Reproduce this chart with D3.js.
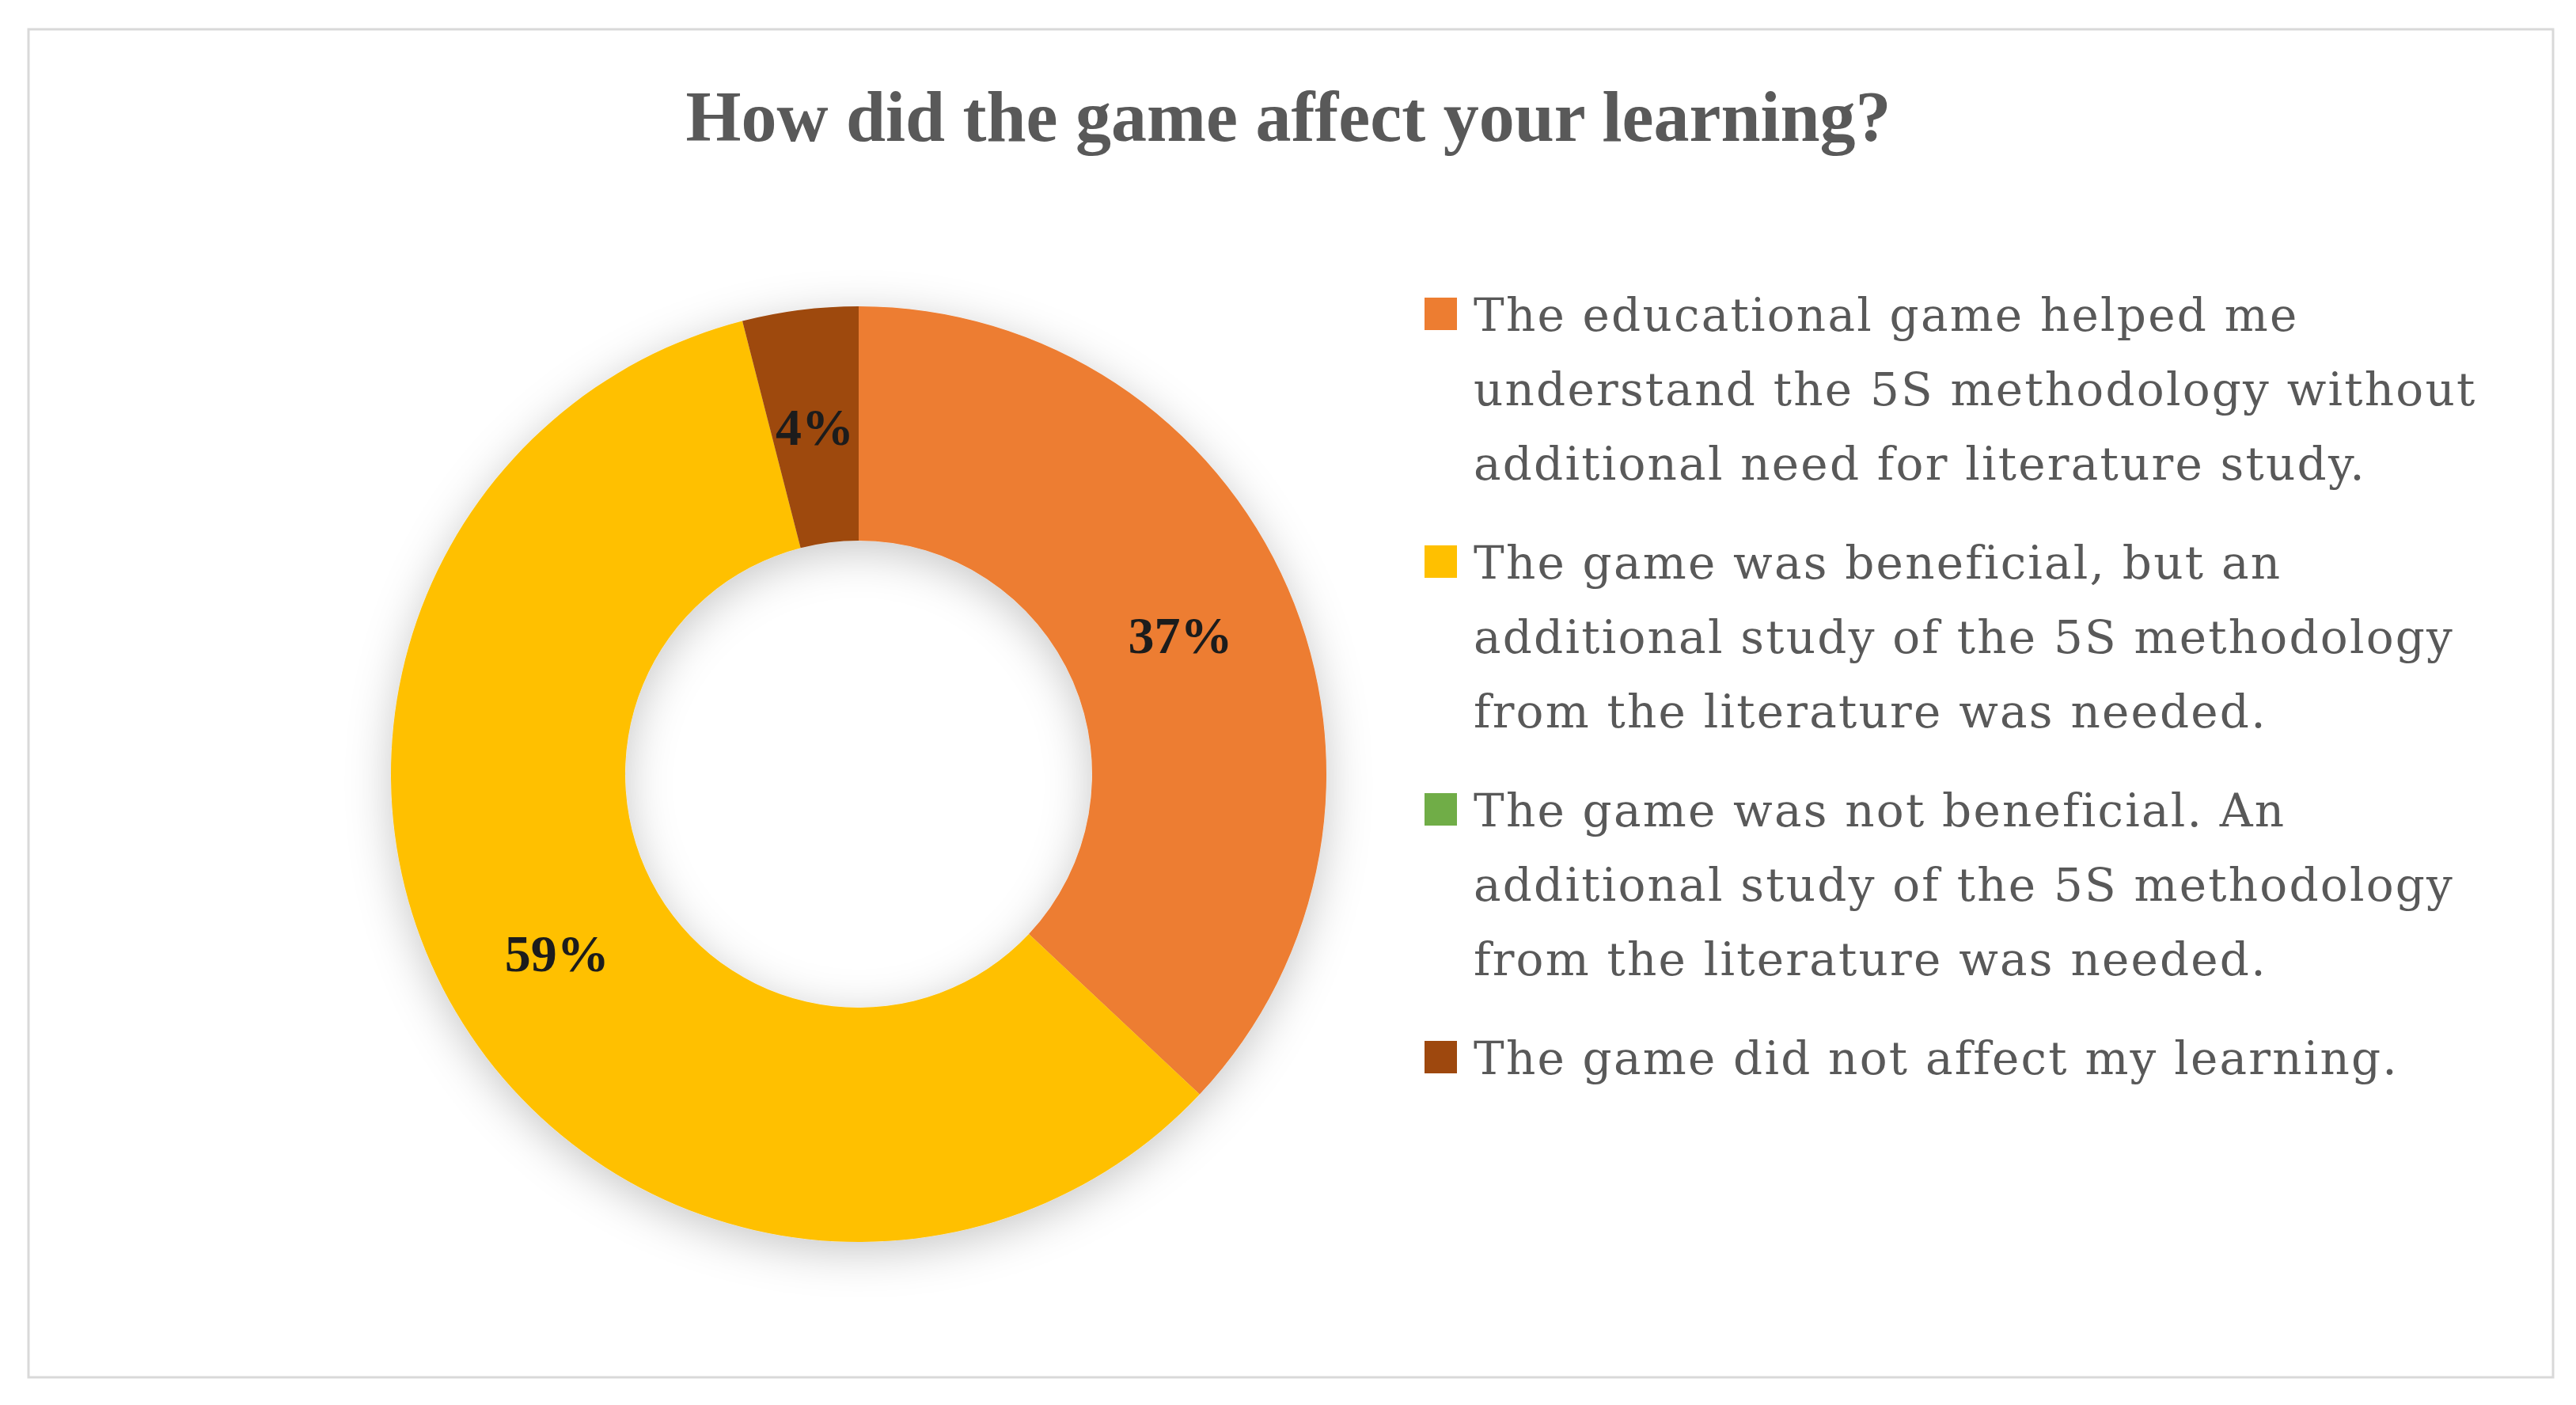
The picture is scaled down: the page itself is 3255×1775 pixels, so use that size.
<!DOCTYPE html>
<html>
<head>
<meta charset="utf-8">
<script src="https://cdn.jsdelivr.net/npm/d3@7"></script>
<style>
  body { margin: 0; background: #fff; }
</style>
</head>
<body>
<div id="chart"></div>
<script>
// donnees
const categories = [
  "The educational game helped me understand the 5S methodology without additional need for literature study.",
  "The game was beneficial, but an additional study of the 5S methodology from the literature was needed.",
  "The game was not beneficial. An additional study of the 5S methodology from the literature was needed.",
  "The game did not affect my learning."
];
const percents = [37, 59, 0, 4];
const legendLines = [
  ["The educational game helped me", "understand the 5S methodology without", "additional need for literature study."],
  ["The game was beneficial, but an", "additional study of the 5S methodology", "from the literature was needed."],
  ["The game was not beneficial. An", "additional study of the 5S methodology", "from the literature was needed."],
  ["The game did not affect my learning."]
];
const colors = ["#ED7D31", "#FFC000", "#70AD47", "#9E480E"];
const title = "How did the game affect your learning?";

const W = 3255, H = 1775;
const cx = 1085, cy = 978;
const rOuter = 591, rInner = 295;

const svg = d3.select("#chart").append("svg")
  .attr("width", W).attr("height", H);

// ombre douce autour de l'anneau
const defs = svg.append("defs");
const f = defs.append("filter").attr("id", "ombre")
  .attr("x", "-30%").attr("y", "-30%").attr("width", "160%").attr("height", "160%");
f.append("feGaussianBlur").attr("in", "SourceAlpha").attr("stdDeviation", 28).attr("result", "b");
f.append("feOffset").attr("in", "b").attr("dy", 12).attr("result", "o");
f.append("feFlood").attr("flood-color", "#000").attr("flood-opacity", 0.22).attr("result", "c");
f.append("feComposite").attr("in", "c").attr("in2", "o").attr("operator", "in").attr("result", "s");
const m = f.append("feMerge");
m.append("feMergeNode").attr("in", "s");
m.append("feMergeNode").attr("in", "SourceGraphic");

// cadre
svg.append("rect")
  .attr("x", 36).attr("y", 37).attr("width", 3190).attr("height", 1703)
  .attr("fill", "#fff").attr("stroke", "#d9d9d9").attr("stroke-width", 3);

// titre
svg.append("text")
  .attr("x", 1628).attr("y", 178)
  .attr("text-anchor", "middle")
  .style("font-family", "'Liberation Serif', serif")
  .style("font-weight", "bold")
  .style("font-size", "90px")
  .style("fill", "#595959")
  .text(title);

const data = categories.map((c, i) => ({cat: c, val: percents[i], color: colors[i]}));

const pie = d3.pie().sort(null).value(d => d.val);
const arc = d3.arc().innerRadius(rInner).outerRadius(rOuter);
const arcs = pie(data);

const g = svg.append("g").attr("transform", `translate(${cx},${cy})`);

g.append("g").attr("filter", "url(#ombre)")
  .selectAll("path")
  .data(arcs.filter(d => d.data.val > 0))
  .join("path")
    .attr("d", arc)
    .attr("fill", d => d.data.color);

// etiquettes %
g.selectAll("text.lab")
  .data(arcs.filter(d => d.data.val > 0))
  .join("text")
    .attr("class", "lab")
    .attr("transform", d => `translate(${arc.centroid(d)})`)
    .attr("text-anchor", "middle")
    .attr("dy", "0.35em")
    .style("font-family", "'Liberation Serif', serif")
    .style("font-weight", "bold")
    .style("font-size", "66px")
    .style("fill", "#1c1c1c")
    .text(d => d.data.val + "%");

// legende
const lineH = 94, itemH = 313;
const leg = svg.append("g").attr("transform", "translate(1800,418)");
const items = leg.selectAll("g")
  .data(data)
  .join("g")
    .attr("transform", (d, i) => `translate(0,${i * itemH})`);

items.append("rect")
  .attr("x", 0).attr("y", -42).attr("width", 41).attr("height", 41)
  .attr("fill", d => d.color);

items.append("text")
  .style("font-family", "'DejaVu Serif', serif")
  .style("font-size", "58px")
  .style("letter-spacing", "2.2px")
  .style("fill", "#595959")
  .selectAll("tspan")
  .data((d, i) => legendLines[i])
  .join("tspan")
    .attr("x", 62)
    .attr("y", (d, j) => j * lineH)
    .text(d => d);
</script>
</body>
</html>
